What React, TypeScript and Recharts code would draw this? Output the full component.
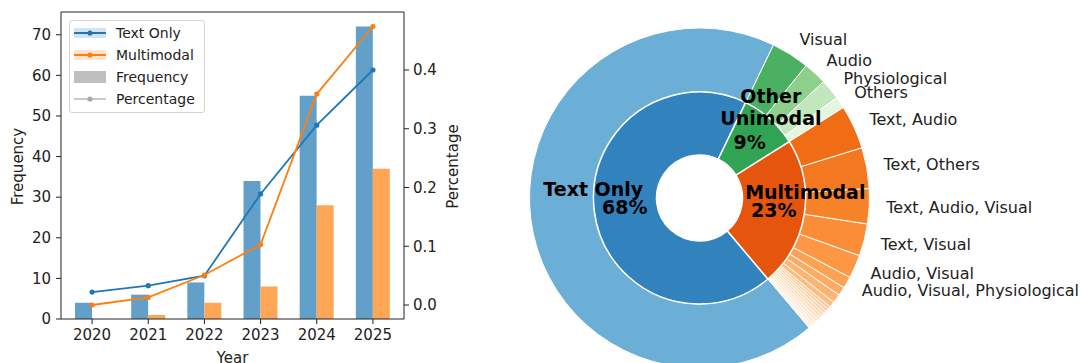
import React from "react";
import { ComposedChart, Bar, Line, XAxis, YAxis, ReferenceLine, PieChart, Pie, Cell } from "recharts";

const FONT = "'DejaVu Sans', sans-serif";
const INK = "#222";
const RAD = Math.PI / 180;

// left: publications per year
const YEARS = ["2020", "2021", "2022", "2023", "2024", "2025"];
const TEXT_ONLY_FREQ = [4, 6, 9, 34, 55, 72];
const MULTIMODAL_FREQ = [0, 1, 4, 8, 28, 37];
const TEXT_ONLY_PCT = [0.022, 0.033, 0.05, 0.189, 0.306, 0.4];
const MULTIMODAL_PCT = [0, 0.013, 0.051, 0.103, 0.359, 0.474];

const FREQ_TICKS = [0, 10, 20, 30, 40, 50, 60, 70];
const PCT_TICKS = [0, 0.1, 0.2, 0.3, 0.4];
const FREQ_DOMAIN = [0, 75.6];
const PCT_DOMAIN = [-0.0238, 0.4987];

// right: modality breakdown (inner ring)
const GROUP_NAMES = ["Text Only", "Multimodal", "Other\nUnimodal"];
const GROUP_COUNTS = [246, 82, 32];

// outer ring, counter-clockwise starting after Text Only
const MULTIMODAL_SUBS = [
  "Audio, Visual, Others",
  "Text, Visual, Physiological, Others",
  "Text, Audio, Physiological",
  "Audio, Physiological",
  "Visual, Others",
  "Audio, Others",
  "Text, Audio, Others",
  "Text, Visual, Others",
  "Visual, Physiological",
  "Text, Visual, Physiological",
  "Text, Audio, Visual, Others",
  "Text, Physiological",
  "Text, Audio, Visual, Physiological",
  "Audio, Visual, Physiological",
  "Audio, Visual",
  "Text, Visual",
  "Text, Audio, Visual",
  "Text, Others",
  "Text, Audio",
];
const MULTIMODAL_SUB_COUNTS = [1, 1, 1, 1, 1, 1, 1, 1, 1, 1, 2, 3, 3, 4, 8, 11, 12, 14, 15];
const UNIMODAL_SUBS = ["Others", "Physiological", "Audio", "Visual"];
const UNIMODAL_SUB_COUNTS = [4, 7, 8, 13];

const GROUP_COLORS = ["#3182bd", "#e6550d", "#31a354"];
const TEXT_ONLY_OUTER = "#6baed6";
const ORANGE_SHADES = [
  "#fff0e1", "#feedda", "#fee9d3", "#fee5cb", "#fee1c3", "#fedcba", "#fed8b2", "#fdd2a7",
  "#fdcc9c", "#fdc590", "#fdbd81", "#fdb471", "#fdab62", "#fda152", "#fd9743", "#fa8d35",
  "#f78329", "#f4781f", "#f06d16",
];
const GREEN_SHADES = ["#e5f5e0", "#c3e7bc", "#8ed08b", "#4bb062"];

const barData = YEARS.map((year, i) => ({
  year,
  textFreq: TEXT_ONLY_FREQ[i],
  multiFreq: MULTIMODAL_FREQ[i],
  textPct: TEXT_ONLY_PCT[i],
  multiPct: MULTIMODAL_PCT[i],
}));

const innerData = GROUP_NAMES.map((name, i) => ({ name, value: GROUP_COUNTS[i], color: GROUP_COLORS[i] }));

const outerData = [
  { name: "Text Only", value: GROUP_COUNTS[0], color: TEXT_ONLY_OUTER },
  ...MULTIMODAL_SUBS.map((name, i) => ({ name, value: MULTIMODAL_SUB_COUNTS[i], color: ORANGE_SHADES[i] })),
  ...UNIMODAL_SUBS.map((name, i) => ({ name, value: UNIMODAL_SUB_COUNTS[i], color: GREEN_SHADES[i] })),
];

const START = 64.2;
const PIE_CX = 214.5;
const PIE_CY = 193;

const tickStyle = { fill: INK, fontSize: 15, fontFamily: FONT };

const titleText = (text: string, kind: "x" | "left" | "right") => (p: any) => {
  const { x, y, width, height } = p.viewBox;
  if (kind === "x") {
    return (
      <text x={x + width / 2} y={y + height} textAnchor="middle" fill={INK} fontSize={15} fontFamily={FONT}>
        {text}
      </text>
    );
  }
  const tx = kind === "left" ? x + 18 : x + 49;
  const ty = y + height / 2 + 1;
  return (
    <text x={tx} y={ty} transform={`rotate(-90 ${tx} ${ty})`} textAnchor="middle" dominantBaseline="central" fill={INK} fontSize={15} fontFamily={FONT}>
      {text}
    </text>
  );
};

const LEGEND_ITEMS = [
  { label: "Text Only", line: "#1f77b4", band: "#d2e4f0" },
  { label: "Multimodal", line: "#ff7f0e", band: "#ffe5cf" },
  { label: "Frequency", line: "", band: "#bfbfbf" },
  { label: "Percentage", line: "#b8b8b8", band: "" },
];

function ChartLegend() {
  return (
    <div
      style={{
        position: "absolute",
        left: 69,
        top: 20,
        width: 134,
        padding: "1px 0 2px 0",
        background: "rgba(255,255,255,0.85)",
        border: "1px solid #d3d3d3",
        borderRadius: 3,
        fontFamily: FONT,
        fontSize: 14,
        color: INK,
      }}
    >
      {LEGEND_ITEMS.map((it) => (
        <div key={it.label} style={{ display: "flex", alignItems: "center", height: 22 }}>
          <svg width={32} height={14} style={{ marginLeft: 4, marginRight: 10 }}>
            {it.band && <rect x={0} y={it.line ? 2 : 1} width={32} height={it.line ? 10 : 12} fill={it.band} />}
            {it.line && <line x1={0} x2={32} y1={7} y2={7} stroke={it.line} strokeWidth={it.band ? 2 : 1.5} />}
            {it.line && <circle cx={16} cy={7} r={2.6} fill={it.band ? it.line : "#a8a8a8"} />}
          </svg>
          <span>{it.label}</span>
        </div>
      ))}
    </div>
  );
}

const innerLabel = (p: any) => {
  const a = -p.midAngle * RAD;
  const nr = p.outerRadius * 1.01;
  const pr = p.outerRadius * 0.71;
  const nx = p.cx + nr * Math.cos(a);
  const ny = p.cy + nr * Math.sin(a);
  const lines = String(p.name).split("\n");
  const common = { textAnchor: "middle" as const, dominantBaseline: "central" as const, fill: "#000", fontSize: 19, fontWeight: "bold", fontFamily: FONT };
  return (
    <g>
      {lines.map((l, i) => (
        <text key={l} x={nx} y={ny - 22 + i * 22} {...common}>
          {l}
        </text>
      ))}
      <text x={p.cx + pr * Math.cos(a)} y={p.cy + pr * Math.sin(a)} {...common}>
        {Math.round(p.percent * 100)}%
      </text>
    </g>
  );
};

const outerLabel = (p: any) => {
  if (p.name === "Text Only" || p.percent < 0.01) return null;
  const a = -p.midAngle * RAD;
  const r = p.outerRadius * 1.1;
  return (
    <text x={p.cx + r * Math.cos(a)} y={p.cy + r * Math.sin(a)} textAnchor="start" dominantBaseline="central" fill={INK} fontSize={16} fontFamily={FONT}>
      {p.name}
    </text>
  );
};

export default function App() {
  return (
    <div style={{ position: "absolute", left: 0, top: 0, width: 1081, height: 363, background: "#fff", overflow: "hidden" }}>
      <div style={{ position: "absolute", left: 0, top: 0 }}>
        <ComposedChart width={480} height={363} data={barData} margin={{ top: 12, right: 0, bottom: 0, left: 0 }} barGap={0}>
          <XAxis
            dataKey="year"
            height={44}
            padding={{ left: 3, right: 3 }}
            tick={tickStyle}
            tickSize={5}
            tickMargin={5}
            stroke="#222"
            tickLine={{ stroke: "#222" }}
            label={titleText("Year", "x")}
          />
          <YAxis
            yAxisId="left"
            width={61}
            domain={FREQ_DOMAIN}
            ticks={FREQ_TICKS}
            interval={0}
            tick={tickStyle}
            tickSize={5}
            tickMargin={5}
            stroke="#222"
            label={titleText("Frequency", "left")}
          />
          <YAxis
            yAxisId="right"
            orientation="right"
            width={76}
            domain={PCT_DOMAIN}
            allowDataOverflow
            ticks={PCT_TICKS}
            interval={0}
            tickFormatter={(v: number) => v.toFixed(1)}
            tick={tickStyle}
            tickSize={5}
            tickMargin={4}
            stroke="#222"
            label={titleText("Percentage", "right")}
          />
          <ReferenceLine yAxisId="left" y={FREQ_DOMAIN[1]} stroke="#222" />
          <Bar yAxisId="left" dataKey="textFreq" name="Text Only" fill="#62a0ca" barSize={17} isAnimationActive={false} />
          <Bar yAxisId="left" dataKey="multiFreq" name="Multimodal" fill="#ffa556" barSize={17} isAnimationActive={false} />
          <Line
            yAxisId="right"
            dataKey="textPct"
            type="linear"
            stroke="#1f77b4"
            strokeWidth={1.8}
            dot={{ r: 2.6, fill: "#1f77b4", stroke: "none" }}
            isAnimationActive={false}
          />
          <Line
            yAxisId="right"
            dataKey="multiPct"
            type="linear"
            stroke="#ff7f0e"
            strokeWidth={1.8}
            dot={{ r: 2.6, fill: "#ff7f0e", stroke: "none" }}
            isAnimationActive={false}
          />
        </ComposedChart>
        <ChartLegend />
      </div>

      <div style={{ position: "absolute", left: 480, top: 0 }}>
        <PieChart width={601} height={363}>
          <Pie
            data={outerData}
            dataKey="value"
            nameKey="name"
            cx={PIE_CX}
            cy={PIE_CY}
            innerRadius={106}
            outerRadius={170}
            startAngle={START}
            endAngle={START + 360}
            stroke="#fff"
            strokeWidth={1}
            label={outerLabel}
            labelLine={false}
            isAnimationActive={false}
          >
            {outerData.map((d) => (
              <Cell key={d.name} fill={d.color} />
            ))}
          </Pie>
          <Pie
            data={innerData}
            dataKey="value"
            nameKey="name"
            cx={PIE_CX}
            cy={PIE_CY}
            innerRadius={43}
            outerRadius={106}
            startAngle={START}
            endAngle={START + 360}
            stroke="#fff"
            strokeWidth={1.5}
            label={innerLabel}
            labelLine={false}
            isAnimationActive={false}
          >
            {innerData.map((d) => (
              <Cell key={d.name} fill={d.color} />
            ))}
          </Pie>
        </PieChart>
      </div>
    </div>
  );
}
